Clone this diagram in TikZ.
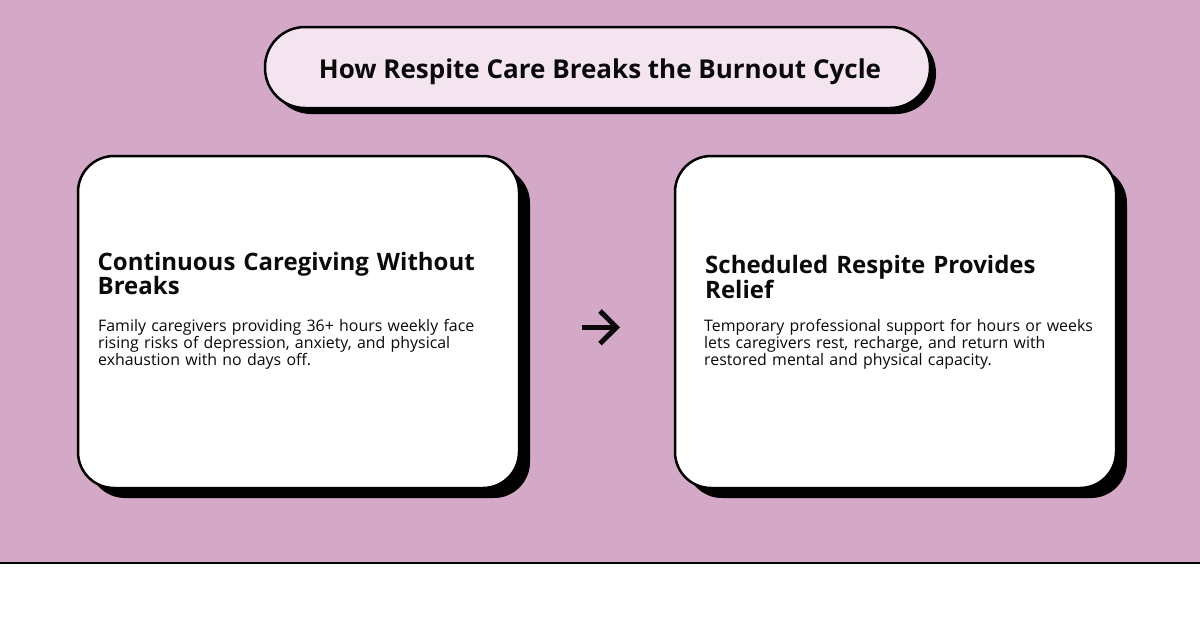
\documentclass[tikz,border=0pt]{standalone}
\usepackage{fontspec}
\setmainfont{Open Sans}
\definecolor{bgpurple}{HTML}{D4A9C8}
\definecolor{pillfill}{HTML}{F3E4EF}
\definecolor{ink}{HTML}{0A0A0A}
\tikzset{
  card/.style={draw=black, line width=2.5pt, fill=white, rounded corners=36pt},
  cardshadow/.style={fill=black, rounded corners=36pt},
  pill/.style={draw=black, line width=2.5pt, fill=pillfill, rounded corners=40pt},
  cardtitle/.style={anchor=base west, inner sep=0pt, text width=400pt, align=left, text=ink,
    font=\fontsize{24}{24}\selectfont\bfseries},
  cardbody/.style={anchor=base west, inner sep=0pt, text width=400pt, align=left, text=ink,
    font=\fontsize{15.9}{15.5}\selectfont},
}
\begin{document}
\begin{tikzpicture}[x=1pt,y=-1pt]
\useasboundingbox (0,0) rectangle (1200,630);
\fill[white] (0,0) rectangle (1200,630);
\fill[bgpurple] (0,0) rectangle (1200,563);
\draw[black, line width=2pt] (0,563) -- (1200,563);

% title pill
\fill[black, rounded corners=40pt] (271,33) rectangle (936,114);
\draw[pill] (265,27) rectangle (930,108);
\node[anchor=base, inner sep=0pt, text=ink, font=\fontsize{26}{26}\selectfont\bfseries] (title) at (600,78.3) {How Respite Care Breaks the Burnout Cycle};

% left card
\fill[cardshadow] (89,167) rectangle (530,498);
\draw[card] (78,156) rectangle (519,488);
\coordinate (leftcard) at (519,327);
\node[cardtitle] (lt) at (97.5,270) {Continuous Caregiving Without\\Breaks};
\node[cardbody] (lb) at (98,331.7) {Family caregivers providing 36+ hours weekly face\\rising risks of depression, anxiety, and physical\\exhaustion with no days off.};

% right card
\fill[cardshadow] (686,167) rectangle (1127,498);
\draw[card] (675,156) rectangle (1116,488);
\coordinate (rightcard) at (675,327);
\node[cardtitle] (rt) at (705,273.5) {Scheduled Respite Provides\\Relief};
\node[cardbody] (rb) at (704,331.7) {Temporary professional support for hours or weeks\\lets caregivers rest, recharge, and return with\\restored mental and physical capacity.};

% arrow
\coordinate (as) at (581.5,327.3);
\coordinate (ae) at (616,327.3);
\draw[ink, line width=5pt] (as) -- (ae);
\draw[ink, line width=5pt, miter limit=10] (600,311) -- (616.5,327.3) -- (600,343.6);
\end{tikzpicture}
\end{document}
